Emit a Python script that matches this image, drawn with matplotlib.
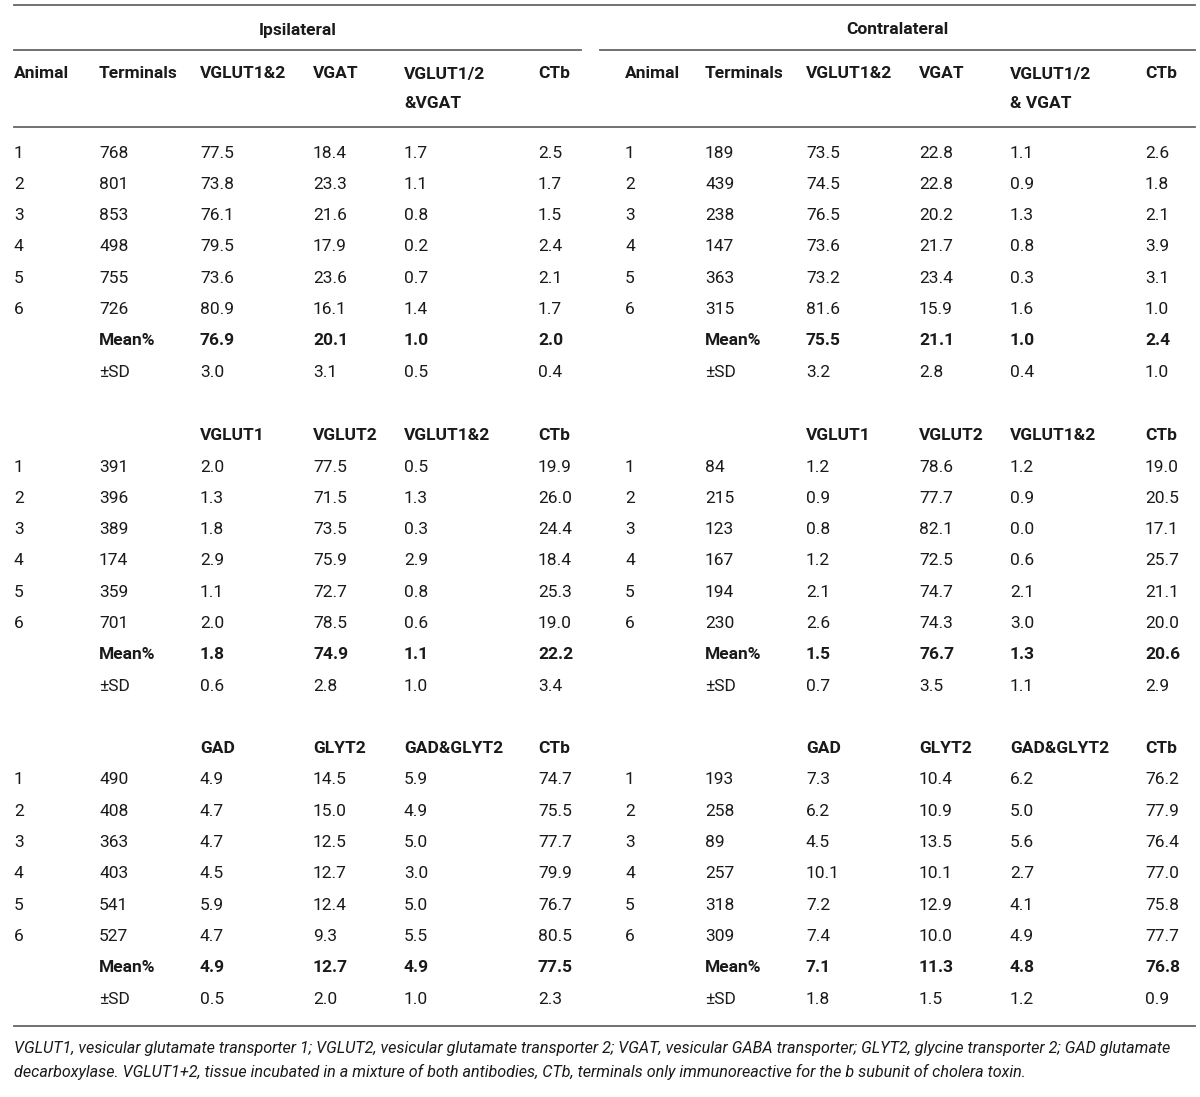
import matplotlib
matplotlib.use("Agg")
import matplotlib.pyplot as plt
from matplotlib import font_manager

names = {f.name for f in font_manager.fontManager.ttflist}
FAM = ['Liberation Sans Narrow', 'DejaVu Sans'] if 'Liberation Sans Narrow' in names else ['Roboto', 'DejaVu Sans']
plt.rcParams['font.family'] = FAM

# ---------------- data ----------------
animals = ["1", "2", "3", "4", "5", "6"]
side_titles = ["Ipsilateral", "Contralateral"]
main_headers_ipsi = ["Animal", "Terminals", "VGLUT1&2", "VGAT", "VGLUT1/2\n&VGAT", "CTb"]
main_headers_contra = ["Animal", "Terminals", "VGLUT1&2", "VGAT", "VGLUT1/2\n& VGAT", "CTb"]
sec2_headers = ["VGLUT1", "VGLUT2", "VGLUT1&2", "CTb"]
sec3_headers = ["GAD", "GLYT2", "GAD&GLYT2", "CTb"]

# Section 1 (VGLUT1&2, VGAT, VGLUT1/2&VGAT, CTb)
ipsi1_terminals = [768, 801, 853, 498, 755, 726]
ipsi1_vglut12 = [77.5, 73.8, 76.1, 79.5, 73.6, 80.9]
ipsi1_vgat = [18.4, 23.3, 21.6, 17.9, 23.6, 16.1]
ipsi1_both = [1.7, 1.1, 0.8, 0.2, 0.7, 1.4]
ipsi1_ctb = [2.5, 1.7, 1.5, 2.4, 2.1, 1.7]
ipsi1_mean = [76.9, 20.1, 1.0, 2.0]
ipsi1_sd = [3.0, 3.1, 0.5, 0.4]

contra1_terminals = [189, 439, 238, 147, 363, 315]
contra1_vglut12 = [73.5, 74.5, 76.5, 73.6, 73.2, 81.6]
contra1_vgat = [22.8, 22.8, 20.2, 21.7, 23.4, 15.9]
contra1_both = [1.1, 0.9, 1.3, 0.8, 0.3, 1.6]
contra1_ctb = [2.6, 1.8, 2.1, 3.9, 3.1, 1.0]
contra1_mean = [75.5, 21.1, 1.0, 2.4]
contra1_sd = [3.2, 2.8, 0.4, 1.0]

# Section 2 (VGLUT1, VGLUT2, VGLUT1&2, CTb)
ipsi2_terminals = [391, 396, 389, 174, 359, 701]
ipsi2_vglut1 = [2.0, 1.3, 1.8, 2.9, 1.1, 2.0]
ipsi2_vglut2 = [77.5, 71.5, 73.5, 75.9, 72.7, 78.5]
ipsi2_both = [0.5, 1.3, 0.3, 2.9, 0.8, 0.6]
ipsi2_ctb = [19.9, 26.0, 24.4, 18.4, 25.3, 19.0]
ipsi2_mean = [1.8, 74.9, 1.1, 22.2]
ipsi2_sd = [0.6, 2.8, 1.0, 3.4]

contra2_terminals = [84, 215, 123, 167, 194, 230]
contra2_vglut1 = [1.2, 0.9, 0.8, 1.2, 2.1, 2.6]
contra2_vglut2 = [78.6, 77.7, 82.1, 72.5, 74.7, 74.3]
contra2_both = [1.2, 0.9, 0.0, 0.6, 2.1, 3.0]
contra2_ctb = [19.0, 20.5, 17.1, 25.7, 21.1, 20.0]
contra2_mean = [1.5, 76.7, 1.3, 20.6]
contra2_sd = [0.7, 3.5, 1.1, 2.9]

# Section 3 (GAD, GLYT2, GAD&GLYT2, CTb)
ipsi3_terminals = [490, 408, 363, 403, 541, 527]
ipsi3_gad = [4.9, 4.7, 4.7, 4.5, 5.9, 4.7]
ipsi3_glyt2 = [14.5, 15.0, 12.5, 12.7, 12.4, 9.3]
ipsi3_both = [5.9, 4.9, 5.0, 3.0, 5.0, 5.5]
ipsi3_ctb = [74.7, 75.5, 77.7, 79.9, 76.7, 80.5]
ipsi3_mean = [4.9, 12.7, 4.9, 77.5]
ipsi3_sd = [0.5, 2.0, 1.0, 2.3]

contra3_terminals = [193, 258, 89, 257, 318, 309]
contra3_gad = [7.3, 6.2, 4.5, 10.1, 7.2, 7.4]
contra3_glyt2 = [10.4, 10.9, 13.5, 10.1, 12.9, 10.0]
contra3_both = [6.2, 5.0, 5.6, 2.7, 4.1, 4.9]
contra3_ctb = [76.2, 77.9, 76.4, 77.0, 75.8, 77.7]
contra3_mean = [7.1, 11.3, 4.8, 76.8]
contra3_sd = [1.8, 1.5, 1.2, 0.9]

footnote_lines = [
    "VGLUT1, vesicular glutamate transporter 1; VGLUT2, vesicular glutamate transporter 2; VGAT, vesicular GABA transporter; GLYT2, glycine transporter 2; GAD glutamate",
    "decarboxylase. VGLUT1+2, tissue incubated in a mixture of both antibodies, CTb, terminals only immunoreactive for the b subunit of cholera toxin.",
]

# ---------------- layout ----------------
W, H = 1200, 1097
fig = plt.figure(figsize=(W / 100, H / 100), dpi=100)
ax = fig.add_axes([0, 0, 1, 1])
ax.set_xlim(0, W)
ax.set_ylim(H, 0)
ax.axis('off')

TXT = '#1a1a1a'
LINE = '#666666'
FS = 12.5

col_x = {0: [14, 99, 200, 313, 404, 538], 1: [625, 705, 806, 919, 1010, 1145]}
span = {0: (14, 581), 1: (600, 1195)}

# rules
ax.plot([14, 1195], [5, 5], color=LINE, lw=1.3)
for s in (0, 1):
    ax.plot(span[s], [50, 50], color=LINE, lw=1.3)
ax.plot([14, 1195], [127, 127], color=LINE, lw=1.3)
ax.plot([14, 1195], [1026, 1026], color=LINE, lw=1.3)

def t(x, y, s, bold=False, **kw):
    ax.text(x, y, s, fontsize=FS, color=TXT, ha='left', va='center',
            fontweight='bold' if bold else 'normal', **kw)

# side titles
for s in (0, 1):
    cx = (span[s][0] + span[s][1]) / 2
    ax.text(cx, 30, side_titles[s], fontsize=FS, color=TXT, ha='center', va='center', fontweight='bold')

# main headers
for s, hdrs in ((0, main_headers_ipsi), (1, main_headers_contra)):
    for x, h in zip(col_x[s], hdrs):
        lines = h.split("\n")
        t(x, 74, lines[0], bold=True)
        if len(lines) > 1:
            t(x, 104, lines[1], bold=True)

sections = [
    (153, None,
     [(ipsi1_terminals, [ipsi1_vglut12, ipsi1_vgat, ipsi1_both, ipsi1_ctb], ipsi1_mean, ipsi1_sd),
      (contra1_terminals, [contra1_vglut12, contra1_vgat, contra1_both, contra1_ctb], contra1_mean, contra1_sd)]),
    (467, sec2_headers,
     [(ipsi2_terminals, [ipsi2_vglut1, ipsi2_vglut2, ipsi2_both, ipsi2_ctb], ipsi2_mean, ipsi2_sd),
      (contra2_terminals, [contra2_vglut1, contra2_vglut2, contra2_both, contra2_ctb], contra2_mean, contra2_sd)]),
    (780, sec3_headers,
     [(ipsi3_terminals, [ipsi3_gad, ipsi3_glyt2, ipsi3_both, ipsi3_ctb], ipsi3_mean, ipsi3_sd),
      (contra3_terminals, [contra3_gad, contra3_glyt2, contra3_both, contra3_ctb], contra3_mean, contra3_sd)]),
]

DY = 31.3
for y0, hdrs, sides in sections:
    for s, (term, cols, mean, sd) in enumerate(sides):
        xs = col_x[s]
        if hdrs is not None:
            for x, h in zip(xs[2:], hdrs):
                t(x, y0 - DY, h, bold=True)
        for i, a in enumerate(animals):
            y = y0 + i * DY
            t(xs[0], y, a)
            t(xs[1], y, str(term[i]))
            for j, c in enumerate(cols):
                t(xs[2 + j], y, f"{c[i]:.1f}")
        ym = y0 + 6 * DY
        ysd = y0 + 7 * DY
        t(xs[1], ym, "Mean%", bold=True)
        t(xs[1], ysd, "±SD")
        for j in range(4):
            t(xs[2 + j], ym, f"{mean[j]:.1f}", bold=True)
            t(xs[2 + j], ysd, f"{sd[j]:.1f}")

for k, line in enumerate(footnote_lines):
    ax.text(14, 1048 + 24 * k, line, fontsize=11.6, color=TXT, ha='left', va='center',
            style='italic')

fig.savefig("out.png", dpi=100)
